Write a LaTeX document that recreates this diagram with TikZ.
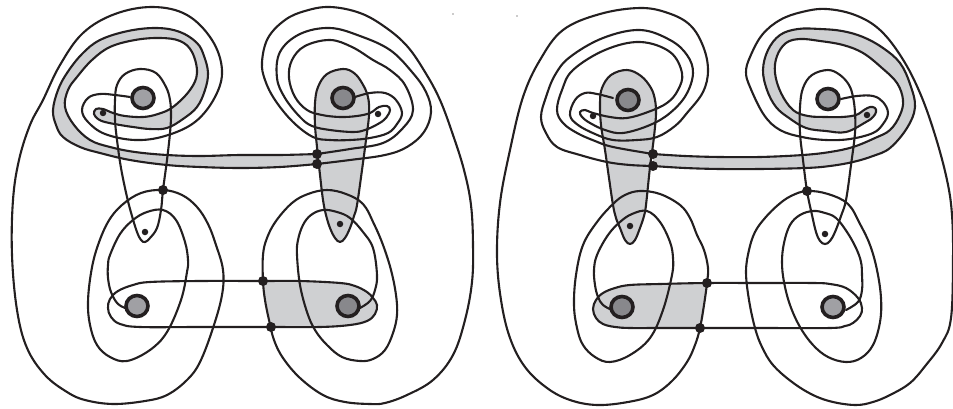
\documentclass[tikz,border=0pt]{standalone}
\usetikzlibrary{shapes.geometric}
\definecolor{bandgray}{HTML}{CFD0D2}
\definecolor{punctA}{HTML}{A0A0A4}
\definecolor{punctB}{HTML}{88888C}
\definecolor{inkc}{HTML}{231F20}
\tikzset{
  strand/.style={draw=inkc,line width=2.1pt,line join=round,line cap=round},
  bandfill/.style={fill=bandgray},
  jn/.style={circle,fill=inkc,draw=none,inner sep=0pt,minimum size=10pt},
  dotm/.style={circle,fill=inkc,draw=none,inner sep=0pt,minimum size=6.5pt},
  punctlight/.style={ellipse,draw=inkc,line width=3.6pt,fill=punctA,inner sep=0pt,minimum width=22pt,minimum height=21pt},
  punctdark/.style={ellipse,draw=inkc,line width=3.6pt,fill=punctB,inner sep=0pt,minimum width=22pt,minimum height=21pt},
  speck/.style={circle,fill=inkc,draw=none,inner sep=0pt,minimum size=1.3pt},
  sm/.style={smooth,tension=0.62},
  smc/.style={smooth cycle,tension=0.62}
}
\newcommand\leftBand[1]{\path[#1] plot[sm] coordinates {(317,154)(280,155)(240,155)(200,156)(167,155)(135,152)(110,147)(90,140)(74,125)(65,107)(68,90)(77,77)(92,60)(110,47)(135,40)(160,38)(180,41)(192,52)(197,73)(190,90)(173,107)(158,114)(143,117)(125,116)(113,113)(103,109)(96,109)(94,114)(98,119)(105,122)(120,125)(133,127)(150,129)(167,128)(183,119)(197,107)(205,90)(208,73)(204,56)(197,43)(180,32)(157,28)(128,31)(100,40)(82,54)(67,73)(58,90)(53,110)(56,125)(63,137)(80,147)(100,153)(130,160)(167,165)(200,167)(240,168)(280,167)(317,164)};}
\newcommand\leftVert[1]{\path[#1] plot[smc] coordinates {(343,69)(327,74)(318,87)(315,103)(315,125)(317,147)(320,175)(323,200)(326,215)(330,228)(335,238)(340,242)(345,238)(350,228)(354,216)(357,205)(362,170)(366,140)(369,115)(368,97)(362,83)(354,73)};}
\newcommand\rightBand[1]{\path[#1] plot[sm] coordinates {(653,154)(685,156)(720,157)(760,157)(803,155)(830,152)(853,147)(875,138)(890,130)(900,115)(903,100)(897,83)(882,68)(863,53)(843,45)(820,41)(800,39)(786,43)(777,56)(775,73)(781,93)(793,110)(808,116)(826,117)(842,117)(856,115)(864,110)(870,107)(875,108)(876,112)(873,117)(866,122)(846,132)(826,131)(806,128)(789,118)(776,107)(767,90)(763,70)(768,50)(780,35)(798,29)(820,29)(842,31)(863,37)(883,48)(900,63)(910,84)(915,107)(907,128)(890,148)(873,156)(853,162)(830,166)(806,168)(760,169)(720,169)(685,168)(653,166)};}
\newcommand\rightVert[1]{\path[#1] plot[smc] coordinates {(627,70)(611,75)(602,88)(600,103)(601,125)(605,150)(609,178)(613,205)(616,218)(620,228)(625,240)(630,244)(635,240)(640,228)(644,216)(646,205)(650,167)(653,145)(655,127)(656,113)(655,100)(651,88)(641,76)};}
\begin{document}
\begin{tikzpicture}[x=1pt,y=-1pt]
\useasboundingbox (0,0) rectangle (953,409);
% fills
\leftBand{bandfill}
\leftVert{bandfill}
\rightBand{bandfill}
\rightVert{bandfill}
\fill[bandgray] plot[sm] coordinates {(263,281)(300,281)(340,283)(355,286)(367,292)(373,298)(377,305)(375,314)(367,321)(350,325)(320,327)(271,327)} .. controls (267,312) and (264,296) .. (263,281) -- cycle;
\fill[bandgray] plot[sm] coordinates {(707,283)(660,284)(630,285)(615,288)(603,293)(596,300)(593,309)(596,318)(603,324)(615,327)(630,328)(660,328)(700,328)} .. controls (704,312) and (706,296) .. (707,283) -- cycle;
% left panel strands
\draw[strand] plot[sm] coordinates {(128,309)(118,304)(111,292)(108,278)(108,265)(110,255)(120,234)(133,220)(147,212)(163,210)(176,220)(185,242)(188,260)(187,272)(181,300)(167,332)(150,350)(127,361)(110,357)(97,345)(90,325)(88,302)(91,273)(97,248)(108,222)(122,205)(141,193)(163,190)(182,195)(197,207)(208,224)(216,245)(223,270)(222,295)(213,328)(200,362)(187,380)(167,395)(145,401)(113,404)(85,400)(67,392)(45,375)(27,348)(17,310)(12,255)(13,200)(19,160)(30,125)(43,100)(60,65)(83,33)(115,14)(153,7)(187,15)(212,40)(222,70)(215,97)(195,122)(165,136)(135,140)(105,134)(88,122)(82,110)(88,98)(100,94)(115,95)(130,97)};
\draw[strand] plot[smc] coordinates {(140,69)(125,74)(117,85)(115,100)(115,120)(117,140)(121,168)(127,197)(132,216)(137,232)(141,240)(145,242)(150,238)(157,228)(161,210)(163,190)(167,160)(170,133)(171,115)(170,100)(166,87)(156,73)};
\leftBand{strand}
\leftVert{strand}
\draw[strand] plot[sm] coordinates {(317,154)(350,149)(383,143)(403,128)(413,110)(405,85)(390,70)(373,60)(352,47)(330,40)(305,46)(292,60)(289,78)(295,97)(307,110)(322,115)(340,117)(357,116)(370,113)(379,107)(387,106)(390,110)(386,118)(378,124)(365,130)(353,132)(330,130)(312,126)(300,117)(285,98)(277,78)(280,52)(300,34)(330,28)(360,36)(390,50)(412,72)(426,92)(431,112)(424,132)(407,147)(385,155)(350,160)(317,164)};
\draw[strand] plot[sm] coordinates {(355,97)(370,93)(385,93)(396,100)(402,113)(397,124)(388,133)(370,138)(350,140)(330,140)(313,137)(293,122)(275,100)(265,80)(262,62)(268,38)(285,20)(305,11)(330,7)(360,13)(385,27)(407,46)(425,72)(440,100)(453,135)(464,170)(471,205)(473,245)(472,282)(465,320)(453,355)(433,380)(407,395)(385,403)(370,404)(345,402)(323,395)(300,378)(283,358)(274,340)(269,320)(265,300)(263,281)(263,255)(267,238)(276,221)(292,203)(308,194)(327,190)(346,194)(363,204)(374,224)(383,245)(391,270)(396,295)(397,315)(393,333)(385,350)(373,359)(360,361)(342,357)(327,345)(315,330)(307,312)(300,285)(297,255)(298,240)(303,225)(311,215)(323,210)(337,212)(350,218)(363,232)(373,248)(377,275)(375,290)(370,301)(360,308)};
\draw[strand] plot[smc] coordinates {(263,281)(200,281)(150,282)(133,285)(118,291)(110,299)(108,308)(111,317)(120,324)(140,327)(200,327)(271,327)(320,327)(350,325)(367,321)(375,314)(377,305)(373,298)(367,292)(355,286)(340,283)(300,281)};
% right panel strands
\draw[strand] plot[sm] coordinates {(613,98)(597,94)(585,93)(575,100)(570,115)(578,125)(595,134)(613,140)(637,140)(657,137)(675,126)(687,113)(703,92)(708,70)(703,46)(690,25)(668,13)(640,8)(600,14)(563,30)(540,60)(523,97)(510,150)(500,203)(497,255)(501,300)(510,338)(525,367)(547,388)(570,400)(597,405)(628,402)(653,395)(672,381)(687,362)(695,345)(700,328)(704,305)(707,283)(708,268)(704,250)(697,235)(690,218)(680,205)(660,194)(640,191)(625,195)(613,204)(597,222)(583,245)(576,275)(574,305)(577,328)(583,345)(595,357)(610,362)(630,355)(650,338)(663,310)(672,275)(673,258)(670,242)(660,222)(647,211)(632,214)(620,222)(608,235)(597,255)(594,270)(595,285)(598,297)(603,305)(612,310)};
\draw[strand] plot[sm] coordinates {(653,166)(630,165)(607,162)(580,155)(557,147)(546,133)(541,117)(546,97)(555,75)(570,57)(603,38)(640,30)(670,40)(687,55)(693,73)(686,95)(670,113)(650,125)(623,133)(605,130)(590,123)(582,117)(580,112)(585,110)(593,113)(610,117)(627,118)(648,112)(667,103)(678,90)(682,73)(670,52)(640,42)(605,50)(573,70)(562,90)(557,110)(563,123)(577,133)(595,141)(613,147)(653,154)};
\draw[strand] plot[smc] coordinates {(828,70)(812,75)(803,88)(800,107)(800,133)(803,160)(807,191)(812,215)(816,232)(820,241)(825,244)(830,241)(835,232)(841,216)(846,200)(851,165)(855,133)(855,113)(853,97)(849,85)(840,75)};
\rightBand{strand}
\rightVert{strand}
\draw[strand] plot[sm] coordinates {(841,99)(857,96)(873,96)(883,102)(888,113)(883,124)(873,133)(850,139)(826,140)(802,137)(780,130)(764,115)(750,87)(746,72)(750,57)(762,35)(780,20)(802,12)(826,9)(855,15)(880,30)(902,58)(920,93)(935,135)(947,180)(952,215)(953,260)(951,318)(942,343)(926,365)(910,383)(890,395)(873,402)(856,405)(833,402)(813,395)(792,382)(773,365)(762,347)(755,328)(749,300)(746,272)(749,250)(755,232)(765,218)(778,205)(791,196)(807,191)(828,194)(848,204)(860,224)(870,245)(877,270)(881,298)(880,322)(873,345)(861,358)(846,362)(828,357)(813,345)(800,327)(790,305)(784,282)(782,262)(784,243)(790,225)(800,215)(813,211)(825,213)(836,218)(847,232)(856,248)(861,262)(862,275)(862,290)(858,302)(846,310)};
\draw[strand] plot[smc] coordinates {(707,283)(660,284)(630,285)(615,288)(603,293)(596,300)(593,309)(596,318)(603,324)(615,327)(630,328)(660,328)(700,328)(760,328)(830,328)(845,326)(853,323)(860,316)(862,308)(858,298)(846,288)(830,284)(813,283)(760,283)};
% junctions
\node[jn] (j1) at (163,190) {};
\node[jn] (j2) at (317,154) {};
\node[jn] (j3) at (317,164) {};
\node[jn] (j4) at (263,281) {};
\node[jn] (j5) at (271,327) {};
\node[jn] (j6) at (653,154) {};
\node[jn] (j7) at (653,166) {};
\node[jn] (j8) at (707,283) {};
\node[jn] (j9) at (700,328) {};
\node[jn] (j10) at (807,191) {};
% small dots
\node[dotm] (d1) at (103,113) {};
\node[dotm] (d2) at (145,232) {};
\node[dotm] (d3) at (378,114) {};
\node[dotm] (d4) at (340,224) {};
\node[dotm] (d5) at (593,116) {};
\node[dotm] (d6) at (630,226) {};
\node[dotm] (d7) at (867,115) {};
\node[dotm] (d8) at (825,234) {};
% punctures
\node[punctlight] (p1) at (143,98) {};
\node[punctdark] (p2) at (343,98) {};
\node[punctlight] (p3) at (137,306) {};
\node[punctdark] (p4) at (348,306) {};
\node[punctdark] (p5) at (628,100) {};
\node[punctlight] (p6) at (828,99) {};
\node[punctdark] (p7) at (622,307) {};
\node[punctlight] (p8) at (833,307) {};
\node[speck] (s1) at (453,14) {};
\node[speck] (s2) at (517,16) {};
\end{tikzpicture}
\end{document}
